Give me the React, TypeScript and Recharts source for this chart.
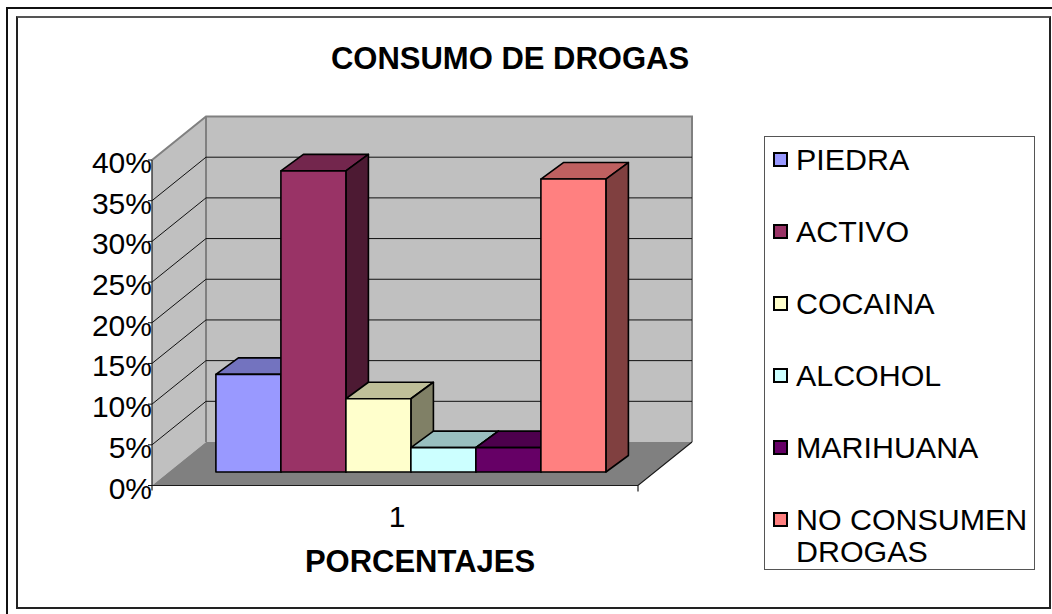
import { BarChart, Bar, XAxis, YAxis, ReferenceArea, ReferenceLine, Legend } from "recharts"

const categories = ["1"]
const seriesNames = ["PIEDRA", "ACTIVO", "COCAINA", "ALCOHOL", "MARIHUANA", "NO CONSUMEN DROGAS"]
const seriesValues = [[12], [37], [9], [3], [3], [36]]
const seriesColors = ["#9999ff", "#993366", "#ffffcc", "#ccffff", "#660066", "#ff8080"]
const percentTicks = [0, 5, 10, 15, 20, 25, 30, 35, 40]

const chartData = categories.map((name, i) => {
  const row: Record<string, string | number> = { name }
  seriesNames.forEach((s, j) => {
    row[s] = seriesValues[j][i]
  })
  return row
})

const FONT = '"Liberation Sans", Arial, sans-serif'

// wall depth and bar depth of the fake 3D box
const WALL_DX = 54
const WALL_DY = 43.5
const BAR_SHIFT_X = 15.3
const BAR_SHIFT_Y = 13.5
const BAR_DX = 22.5
const BAR_DY = 16.5

function shade(hex: string, k: number) {
  const n = parseInt(hex.slice(1), 16)
  const c = [(n >> 16) & 255, (n >> 8) & 255, n & 255].map((v) => Math.round(v * k))
  return `rgb(${c[0]},${c[1]},${c[2]})`
}

function Bar3D(props: any) {
  const { x, y, width, height, fill } = props
  const l = x + BAR_SHIFT_X
  const t = y - BAR_SHIFT_Y
  const r = l + width
  const b = t + height
  return (
    <g stroke="#000" strokeWidth={1.6} strokeLinejoin="round">
      <polygon points={`${l},${t} ${l + BAR_DX},${t - BAR_DY} ${r + BAR_DX},${t - BAR_DY} ${r},${t}`} fill={shade(fill, 0.75)} />
      <polygon points={`${r},${t} ${r + BAR_DX},${t - BAR_DY} ${r + BAR_DX},${b - BAR_DY} ${r},${b}`} fill={shade(fill, 0.5)} />
      <rect x={l} y={t} width={width} height={height} fill={fill} />
    </g>
  )
}

function Walls(props: any) {
  const { x, y, width, height } = props
  const bottom = y + height
  const right = x + width
  const bx = x + WALL_DX
  const by = y - WALL_DY
  const bb = bottom - WALL_DY
  const br = right + WALL_DX
  return (
    <g>
      <polygon points={`${x},${y} ${bx},${by} ${bx},${bb} ${x},${bottom}`} fill="#c0c0c0" />
      <rect x={bx} y={by} width={width} height={height} fill="#c0c0c0" />
      <polygon points={`${x},${bottom} ${bx},${bb} ${br},${bb} ${right},${bottom}`} fill="#808080" />
      <path d={`M${x},${y} L${bx},${by} L${br},${by} L${br},${bb}`} fill="none" stroke="#808080" strokeWidth={2} />
      <path d={`M${bx},${by} L${bx},${bb}`} fill="none" stroke="#808080" strokeWidth={2} />
      <path d={`M${x},${y} L${x},${bottom + 5} M${x},${bottom} L${right},${bottom} L${br},${bb} M${right},${bottom} L${right},${bottom + 6}`} fill="none" stroke="#1a1a1a" strokeWidth={1.2} />
    </g>
  )
}

function GridLine3D(props: any) {
  const { x1, x2, y1 } = props
  const by = y1 - WALL_DY
  return <path d={`M${x1},${y1} L${x1 + WALL_DX},${by} L${x2 + WALL_DX},${by}`} fill="none" stroke="#111" strokeWidth={1} />
}

function PercentTick(props: any) {
  const { x, y, payload } = props
  return (
    <text x={x + 6} y={y + 13} textAnchor="end" fontFamily={FONT} fontSize={30} fill="#000">
      {payload.value}%
    </text>
  )
}

function CategoryTick(props: any) {
  const { x, y, payload } = props
  return (
    <text x={x + 2} y={y + 33} textAnchor="middle" fontFamily={FONT} fontSize={30} fill="#000">
      {payload.value}
    </text>
  )
}

function LegendBox(props: any) {
  const items = props.payload || []
  return (
    <div style={{ position: "relative", width: 271, height: 434, border: "1px solid #555", boxSizing: "border-box", background: "#fff", fontFamily: FONT, fontSize: 30.4, lineHeight: "31.6px", color: "#000" }}>
      {items.map((item: any, i: number) => (
        <div key={item.value} style={{ position: "absolute", left: 8, top: 7 + i * 72 }}>
          <span style={{ position: "absolute", left: 0, top: 8, width: 15, height: 15, boxSizing: "border-box", border: "2px solid #000", background: item.color }} />
          <div style={{ marginLeft: 23, width: 240 }}>{item.value}</div>
        </div>
      ))}
    </div>
  )
}

export default function App() {
  return (
    <div style={{ position: "absolute", left: 0, top: 0, width: 1052, height: 614, background: "#fff", overflow: "hidden" }}>
      <div style={{ position: "absolute", left: 6, top: 7, width: 1060, height: 620, border: "2px solid #111", boxSizing: "border-box" }} />
      <div style={{ position: "absolute", left: 16, top: 16, width: 1035, height: 593, border: "2px solid #222", borderTopColor: "#555", boxSizing: "border-box" }} />
      <div style={{ position: "absolute", left: 0, top: 0 }}>
        <BarChart width={1052} height={614} data={chartData} margin={{ top: 160, right: 414, bottom: 68.5, left: 92 }} barCategoryGap="10%" barGap={0}>
          <ReferenceArea y1={0} y2={40} shape={Walls} ifOverflow="visible" zIndex={-200} />
          {percentTicks.slice(1, -1).map((t) => (
            <ReferenceLine key={t} y={t} shape={GridLine3D} ifOverflow="visible" zIndex={-100} />
          ))}
          <XAxis dataKey="name" height={60} axisLine={false} tickLine={false} tick={CategoryTick} />
          <YAxis width={60} domain={[0, 40]} ticks={percentTicks} interval={0} axisLine={false} tickLine={{ stroke: "#111" }} tickSize={4} tick={PercentTick} />
          {seriesNames.map((s, i) => (
            <Bar key={s} dataKey={s} fill={seriesColors[i]} shape={Bar3D} isAnimationActive={false} />
          ))}
          <Legend content={LegendBox} layout="vertical" align="center" verticalAlign="middle" itemSorter={null} wrapperStyle={{ left: 764, top: 136, width: 271, height: 434 }} />
          <text x={510} y={69} textAnchor="middle" fontFamily={FONT} fontSize={31} fontWeight="bold" fill="#000">CONSUMO DE DROGAS</text>
          <text x={420} y={572} textAnchor="middle" fontFamily={FONT} fontSize={31} fontWeight="bold" fill="#000">PORCENTAJES</text>
        </BarChart>
      </div>
    </div>
  )
}
